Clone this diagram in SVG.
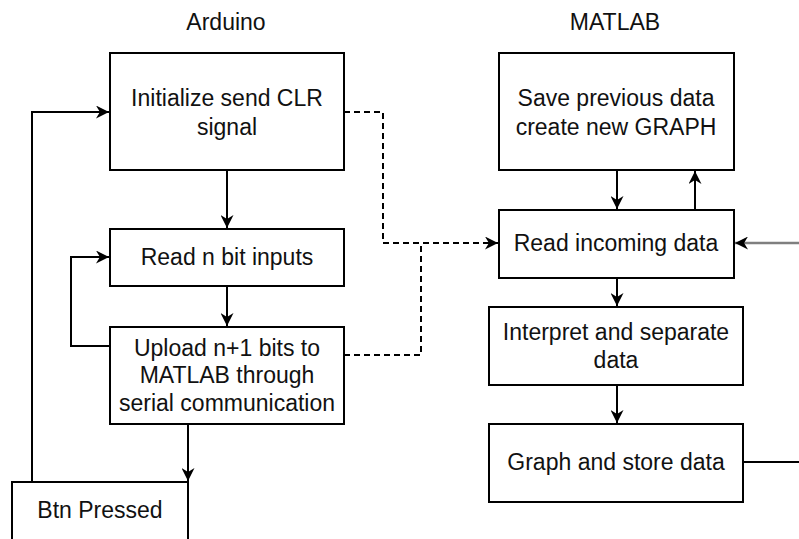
<svg xmlns="http://www.w3.org/2000/svg" width="799" height="539" viewBox="0 0 799 539">
<style>
.box{fill:#fff;stroke:#000;stroke-width:2}
text{font-family:"Liberation Sans",Arial,sans-serif;font-size:23px;fill:#111;text-anchor:middle;dominant-baseline:central}
.c{fill:none;stroke:#000;stroke-width:2}
.d{stroke-dasharray:6 4}
.g{stroke:#7f7f7f;stroke-width:2.5}
</style>
<defs>
<marker id="ah" viewBox="0 0 10 10" refX="10" refY="5" markerWidth="8" markerHeight="8" markerUnits="userSpaceOnUse" orient="auto">
<path d="M0,0 L10,5 L0,10 L3,5 Z" fill="#000"/>
</marker>
<marker id="ahb" viewBox="0 0 10 10" refX="10" refY="5" markerWidth="13" markerHeight="13" markerUnits="userSpaceOnUse" orient="auto">
<path d="M0,0 L10,5 L0,10 L3,5 Z" fill="#000"/>
</marker>
</defs>
<text x="226" y="22">Arduino</text>
<text x="615" y="22">MATLAB</text>
<g id="connectors">
<path class="c" d="M227,170 V228" marker-end="url(#ahb)"/>
<path class="c" d="M227,286 V326" marker-end="url(#ahb)"/>
<path class="c" d="M110,346 H71 V257 H109" marker-end="url(#ahb)"/>
<path class="c" d="M188,424 V481" marker-end="url(#ahb)"/>
<path class="c" d="M32,482 V112 H109" marker-end="url(#ahb)"/>
<path class="c d" d="M344,112 H383 V243 H498" marker-end="url(#ahb)"/>
<path class="c d" d="M344,355 H421 V243"/>
<path class="c" d="M617,170 V209" marker-end="url(#ahb)"/>
<path class="c" d="M695,210 V171" marker-end="url(#ahb)"/>
<path class="c g" d="M799,243 H735" marker-end="url(#ahb)"/>
<path class="c" d="M617,278 V306" marker-end="url(#ahb)"/>
<path class="c" d="M617,385 V423" marker-end="url(#ahb)"/>
<path class="c" d="M743,462 H799"/>
</g>
<g id="init"><rect class="box" x="110" y="53" width="234" height="117"/><text x="227" y="98">Initialize send CLR</text><text x="227" y="127">signal</text></g>
<g id="read"><rect class="box" x="110" y="229" width="234" height="57"/><text x="227" y="257">Read n bit inputs</text></g>
<g id="upload"><rect class="box" x="110" y="327" width="234" height="97"/><text x="227" y="348">Upload n+1 bits to</text><text x="227" y="375">MATLAB through</text><text x="227" y="403">serial communication</text></g>
<g id="btn"><rect class="box" x="12" y="482" width="176" height="70"/><text x="100" y="510">Btn Pressed</text></g>
<g id="save"><rect class="box" x="499" y="53" width="235" height="117"/><text x="616" y="98">Save previous data</text><text x="616" y="127">create new GRAPH</text></g>
<g id="readin"><rect class="box" x="499" y="210" width="235" height="68"/><text x="616" y="243">Read incoming data</text></g>
<g id="interp"><rect class="box" x="489" y="307" width="254" height="78"/><text x="616" y="332">Interpret and separate</text><text x="616" y="360">data</text></g>
<g id="graph"><rect class="box" x="489" y="424" width="254" height="78"/><text x="616" y="462">Graph and store data</text></g>
</svg>
